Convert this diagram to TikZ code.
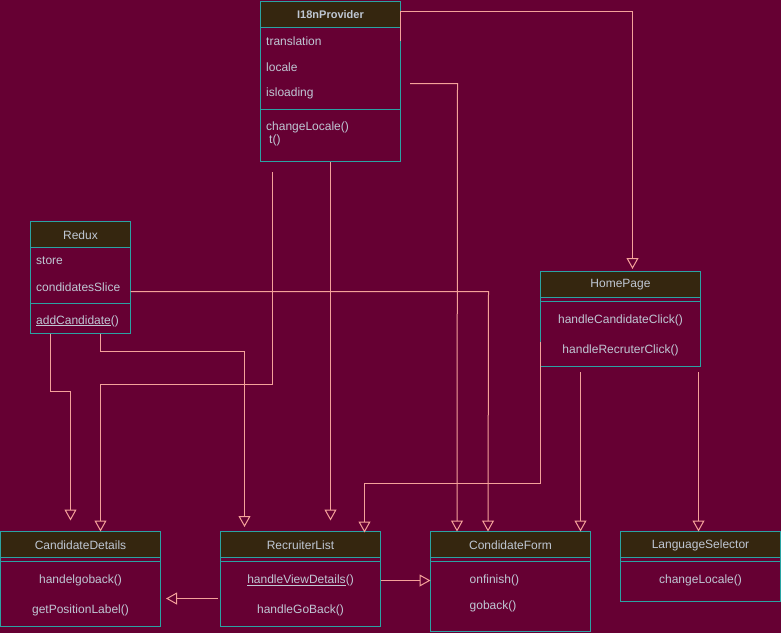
\documentclass[tikz,border=0pt]{standalone}
\usepackage{fontspec}
\setmainfont{Liberation Sans}
\usetikzlibrary{arrows.meta}
\definecolor{bgc}{HTML}{660033}
\definecolor{hdrc}{HTML}{35260F}
\definecolor{boxc}{HTML}{2BA3A3}
\definecolor{txtc}{HTML}{BFC7D4}
\definecolor{lnc}{HTML}{F5A29A}
\begin{document}
\begin{tikzpicture}[x=1pt,y=-1pt,
  box/.style={draw=boxc,line width=1pt,inner sep=0pt,outer sep=0pt,anchor=north west},
  hdr/.style={fill=hdrc,draw=boxc,line width=1pt},
  sepline/.style={draw=boxc,line width=1pt},
  ttl/.style={text=txtc,font=\fontsize{12pt}{14pt}\selectfont,inner sep=0pt},
  mem/.style={text=txtc,font=\fontsize{12pt}{14pt}\selectfont,inner sep=0pt},
  conn/.style={draw=lnc,line width=1pt,-{Triangle[open,width=12pt,length=11pt]}}
]
\fill[bgc] (0,0) rectangle (781,633);
\useasboundingbox (0,0) rectangle (781,633);

% ---------- I18nProvider ----------
\node[box,minimum width=140pt,minimum height=160pt] (i18n) at (260.5,1.5) {};
\path[hdr] (i18n.north west) rectangle ([yshift=-26pt]i18n.north east);
\draw[sepline] ([yshift=-108pt]i18n.north west) -- ([yshift=-108pt]i18n.north east);
\node[ttl,font=\fontsize{11pt}{13pt}\selectfont\bfseries] (i18nT) at (330.5,14.5) {I18nProvider};
\node[mem,anchor=west] (i18nA1) at (266,41) {translation};
\node[mem,anchor=west] (i18nA2) at (266,67) {locale};
\node[mem,anchor=west] (i18nA3) at (266,93) {isloading};
\node[mem,anchor=west] (i18nM1) at (266,127) {changeLocale()};
\node[mem,anchor=west] (i18nM2) at (269,140.5) {t()};

% ---------- Redux ----------
\node[box,minimum width=100pt,minimum height=112pt] (redux) at (30.5,221.5) {};
\path[hdr] (redux.north west) rectangle ([yshift=-26pt]redux.north east);
\draw[sepline] ([yshift=-82pt]redux.north west) -- ([yshift=-82pt]redux.north east);
\node[ttl] (reduxT) at (80.5,235) {Redux};
\node[mem,anchor=west] (reduxA1) at (36,261) {store};
\node[mem,anchor=west] (reduxA2) at (36,287) {condidatesSlice};
\node[mem,anchor=west] (reduxM1) at (36,321) {\underline{addCandidate}()};

% ---------- HomePage ----------
\node[box,minimum width=160pt,minimum height=95pt] (home) at (540.5,271.5) {};
\path[hdr] (home.north west) rectangle ([yshift=-26pt]home.north east);
\draw[sepline] ([yshift=-30pt]home.north west) -- ([yshift=-30pt]home.north east);
\node[ttl] (homeT) at (620.5,285) {HomePage};
\node[mem] (homeM1) at (620.5,320.5) {handleCandidateClick()};
\node[mem] (homeM2) at (620.5,350) {handleRecruterClick()};

% ---------- CandidateDetails ----------
\node[box,minimum width=160pt,minimum height=95pt] (cd) at (0.5,531.5) {};
\path[hdr] (cd.north west) rectangle ([yshift=-26pt]cd.north east);
\draw[sepline] ([yshift=-30pt]cd.north west) -- ([yshift=-30pt]cd.north east);
\node[ttl] (cdT) at (80.5,545) {CandidateDetails};
\node[mem] (cdM1) at (80.5,580.5) {handelgoback()};
\node[mem] (cdM2) at (80.5,610.5) {getPositionLabel()};

% ---------- RecruiterList ----------
\node[box,minimum width=160pt,minimum height=95pt] (rl) at (220.5,531.5) {};
\path[hdr] (rl.north west) rectangle ([yshift=-26pt]rl.north east);
\draw[sepline] ([yshift=-30pt]rl.north west) -- ([yshift=-30pt]rl.north east);
\node[ttl] (rlT) at (300.5,545) {RecruiterList};
\node[mem] (rlM1) at (300.5,580.5) {\underline{handleViewDetails}()};
\node[mem] (rlM2) at (300.5,610.5) {handleGoBack()};

% ---------- CondidateForm ----------
\node[box,minimum width=160pt,minimum height=100pt] (cf) at (430.5,531.5) {};
\path[hdr] (cf.north west) rectangle ([yshift=-26pt]cf.north east);
\draw[sepline] ([yshift=-30pt]cf.north west) -- ([yshift=-30pt]cf.north east);
\node[ttl] (cfT) at (510.5,545) {CondidateForm};
\node[mem,anchor=west] (cfM1) at (469.5,580) {onfinish()};
\node[mem,anchor=west] (cfM2) at (469.5,606) {goback()};

% ---------- LanguageSelector ----------
\node[box,minimum width=160pt,minimum height=70pt] (ls) at (620.5,531.5) {};
\path[hdr] (ls.north west) rectangle ([yshift=-26pt]ls.north east);
\draw[sepline] ([yshift=-30pt]ls.north west) -- ([yshift=-30pt]ls.north east);
\node[ttl] (lsT) at (700.5,545) {LanguageSelector};
\node[mem] (lsM1) at (700.5,580.5) {changeLocale()};

% ---------- free connector ends ----------
\coordinate (homeIn) at (632.5,269);
\coordinate (i18nOut2) at (410,83.5);
\coordinate (homeOut2) at (580.5,372);
\coordinate (homeOut3) at (698.5,372);
\coordinate (i18nOut3) at (272.5,172);
\coordinate (cdIn1) at (70.5,520.5);
\coordinate (rlIn1) at (244.5,527);
\coordinate (rlIn2) at (330.5,520.5);
\coordinate (rlOut1) at (218,598.5);
\coordinate (cdIn2) at (166,598.5);

% ---------- connectors ----------
\draw[conn] ([yshift=-39pt]i18n.north east) -- (400.5,11.5) -- (632.5,11.5) -- (homeIn);
\draw[conn] (i18nOut2) -- (457.5,83.5) -- ([xshift=26.5pt]cf.north west);
\draw[conn] ([yshift=-70pt]redux.north east) -- (488.5,291.5) -- ([xshift=57.5pt]cf.north west);
\draw[conn] ([yshift=-70pt]home.north west) -- (540.5,483.5) -- (364.5,483.5) -- ([xshift=144pt,yshift=-1pt]rl.north west);
\draw[conn] (homeOut2) -- ([xshift=-10pt]cf.north east);
\draw[conn] (homeOut3) -- ([xshift=78pt]ls.north west);
\draw[conn] ([xshift=19.5pt]redux.south west) -- (50,391.5) -- (70.5,391.5) -- (cdIn1);
\draw[conn] ([xshift=69.5pt]redux.south west) -- (100,351.5) -- (244.5,351.5) -- (rlIn1);
\draw[conn] (i18nOut3) -- (272.5,384.5) -- (100.5,384.5) -- ([xshift=100pt]cd.north west);
\draw[conn] ([xshift=70pt]i18n.south west) -- (rlIn2);
\draw[conn] (rlOut1) -- (cdIn2);
\draw[conn] ([yshift=-49pt]rl.north east) -- ([yshift=-49pt]cf.north west);
\end{tikzpicture}
\end{document}
